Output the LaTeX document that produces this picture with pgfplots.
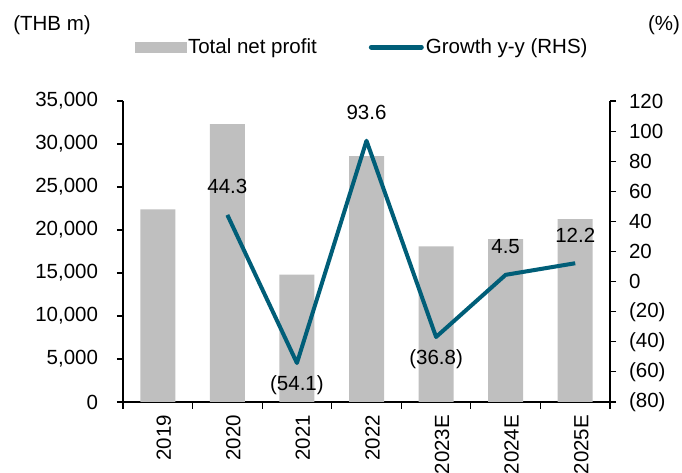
\documentclass[border=0pt]{standalone}
\usepackage{fontspec}
\setmainfont{Liberation Sans}
\usepackage{pgfplots}
\pgfplotsset{compat=1.18}
\definecolor{bargray}{RGB}{191,191,191}
\definecolor{linecol}{RGB}{0,94,120}
\newcommand{\fs}{\fontsize{20.5}{24}\selectfont}
\begin{document}
\fs
\begin{tikzpicture}
\useasboundingbox (-123pt,-71pt) rectangle (559pt,402pt);
\pgfplotsset{
  every axis/.append style={
    scale only axis, width=487pt, height=301pt,
    xmin=-0.5, xmax=6.5,
    tick align=outside,
    major tick length=6pt,
    minor tick length=7pt,
    axis line style={line width=1.1pt, black},
    every tick/.style={line width=1.1pt, black},
    /pgf/number format/assume math mode=true,
    ticklabel style={font=\fs},
  }
}
\begin{axis}[
  axis y line*=left, axis x line*=bottom,
  ymin=0, ymax=35000,
  ytick={0,5000,...,35000},
  scaled y ticks=false,
  yticklabel style={/pgf/number format/1000 sep={,}, xshift=-12pt},
  xtick={0,...,6},
  xticklabels={2019,2020,2021,2022,2023E,2024E,2025E},
  xticklabel style={rotate=90, anchor=east, yshift=-6pt},
  major x tick style={draw=none},
  minor xtick={-0.5,0.5,...,6.5},
]
\addplot[ybar, bar width=35pt, fill=bargray, draw=none] coordinates {
  (0,22400) (1,32300) (2,14800) (3,28600) (4,18100) (5,18950) (6,21250)
};
\end{axis}
\begin{axis}[
  axis y line*=right, axis x line=none,
  ymin=-80, ymax=120,
  ytick={-80,-60,...,120},
  yticklabels={(80),(60),(40),(20),0,20,40,60,80,100,120},
  yticklabel style={xshift=6pt},
  legend columns=2,
  legend style={draw=none, fill=none, at={(0.491,1.179)}, anchor=center,
    font=\fs,
    /tikz/every even column/.append style={column sep=50pt},
    inner sep=0pt},
]
\addlegendimage{legend image code/.code={\fill[bargray] (0pt,-5pt) rectangle (51pt,5pt);}}
\addlegendentry{Total net profit}
\addplot[linecol, line width=4pt, line join=round, mark=none,
  legend image code/.code={\draw[linecol, line width=5pt, line cap=round] (2pt,0pt) -- (52pt,0pt);}]
  coordinates {(1,44.3) (2,-54.1) (3,93.6) (4,-36.8) (5,4.5) (6,12.2)};
\addlegendentry{Growth y-y (RHS)}
\addplot[forget plot, draw=none, mark=none, nodes near coords, point meta=explicit symbolic,
  nodes near coords style={anchor=center, yshift=28pt, font=\fs}]
  coordinates {(1,44.3)[44.3] (3,93.6)[93.6] (5,4.5)[4.5] (6,12.2)[12.2]};
\addplot[forget plot, draw=none, mark=none, nodes near coords, point meta=explicit symbolic,
  nodes near coords style={anchor=center, yshift=-22pt, font=\fs}]
  coordinates {(2,-54.1)[{(54.1)}] (4,-36.8)[{(36.8)}]};
\end{axis}
\node[font=\fs] at (-71pt,377pt) {(THB m)};
\node[font=\fs] at (541pt,377pt) {(\%)};
\end{tikzpicture}
\end{document}
